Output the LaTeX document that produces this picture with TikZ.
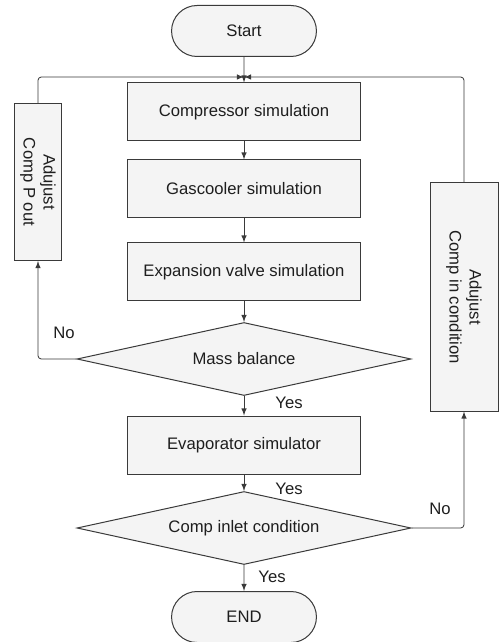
\documentclass[tikz,border=0pt]{standalone}
\usepackage{fontspec}
\setmainfont{Liberation Sans}
\usetikzlibrary{shapes.geometric,shapes.misc}

\definecolor{linec}{HTML}{3A3A3A}
\definecolor{boxfill}{HTML}{F4F4F4}
\definecolor{textc}{HTML}{1E1E1E}

\tikzset{
  term/.style={rounded rectangle,draw=linec,fill=boxfill,line width=0.6pt,minimum width=93.6pt,minimum height=30.6pt,text=textc},
  proc/.style={rectangle,draw=linec,fill=boxfill,line width=0.6pt,minimum width=139.8pt,minimum height=34.8pt,text=textc},
  decide/.style={diamond,draw=linec,fill=boxfill,line width=0.6pt,aspect=4.57,inner sep=0pt,minimum width=200.4pt,minimum height=43.8pt,text=textc},
  adjust/.style={rectangle,draw=linec,fill=boxfill,line width=0.6pt,rotate=-90,align=center,text=textc},
  lab/.style={text=textc,inner sep=1pt},
  flow/.style={>=latex,->,draw=linec,line width=0.5pt},
}

\begin{document}
\begin{tikzpicture}[x=0.6pt,y=-0.6pt]
\useasboundingbox (0,0) rectangle (499,642);

\node[term] (start) at (244,31) {Start};
\node[proc] (comp) at (244,112) {Compressor simulation};
\node[proc] (gasc) at (244,189) {Gascooler simulation};
\node[proc] (expv) at (244,272) {Expansion valve simulation};
\node[decide] (mass) at (244,359) {Mass balance};
\node[proc] (evap) at (244,445) {Evaporator simulator};
\node[decide] (inlet) at (244,528) {Comp inlet condition};
\node[term] (stop) at (244,617) {END};

\node[adjust,minimum width=94.2pt,minimum height=27.6pt] (adjp) at (38,182) {Adujust\\Comp P out};
\node[adjust,minimum width=136.8pt,minimum height=40.8pt] (adjin) at (464,297) {Adujust\\Comp in condition};

\coordinate (join) at (244,77);

% main line
\draw[flow] (start) -- (comp);
\draw[flow] (comp) -- (gasc);
\draw[flow] (gasc) -- (expv);
\draw[flow] (expv) -- (mass);
\draw[flow] (mass) -- (evap);
\draw[flow] (evap) -- (inlet);
\draw[flow] (inlet) -- (stop);

% loops back
\draw[flow,rounded corners=2pt] (mass.west) -| (adjp);
\draw[flow,rounded corners=2pt] (adjp) |- (join);
\draw[flow,rounded corners=2pt] (inlet.east) -| (adjin);
\draw[flow,rounded corners=2pt] (adjin) |- (join);

\node[lab] (nomass) at (64,333) {No};
\node[lab] (yesmass) at (289,403) {Yes};
\node[lab] (yesevap) at (289,489) {Yes};
\node[lab] (noinlet) at (440,509) {No};
\node[lab] (yesinlet) at (272,577) {Yes};

\end{tikzpicture}
\end{document}
